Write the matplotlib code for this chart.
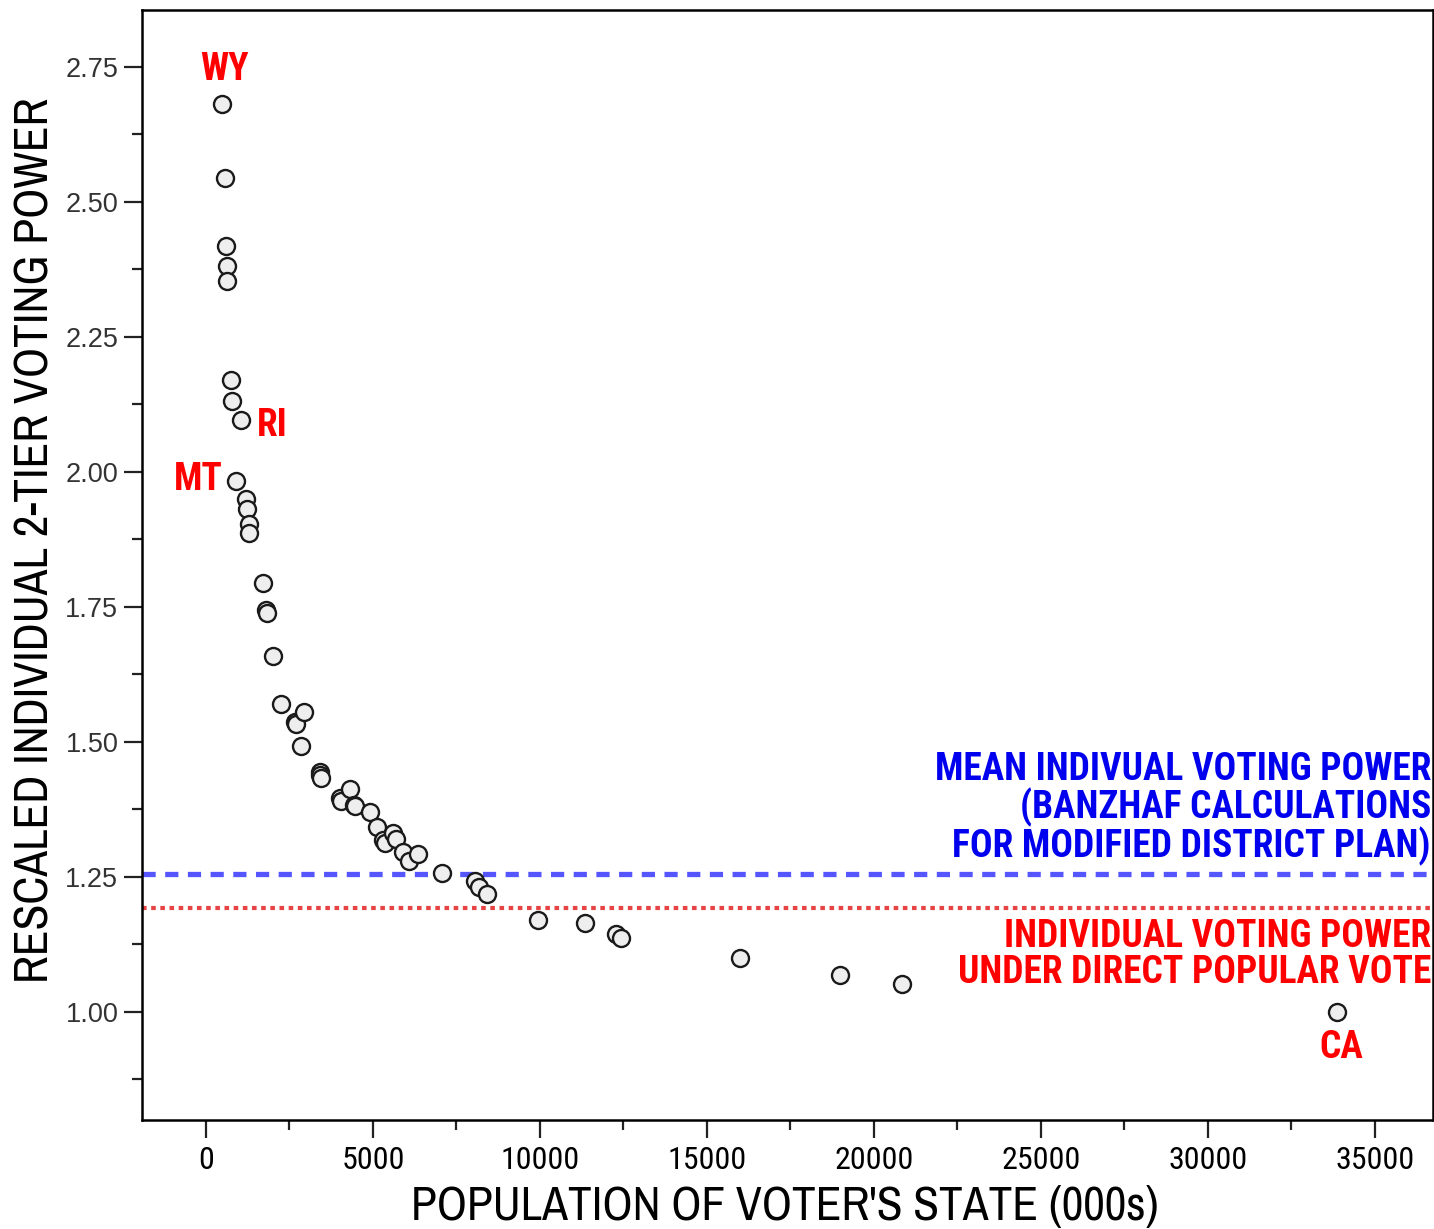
import matplotlib
matplotlib.use("Agg")
import matplotlib.pyplot as plt
import numpy as np
from matplotlib.ticker import MultipleLocator

# population (000s) of each state and rescaled 2-tier voting power
states = ['WY', 'DC', 'VT', 'AK', 'ND', 'SD', 'DE', 'RI', 'MT', 'HI', 'NH', 'ME', 'ID',
          'NE', 'WV', 'NM', 'NV', 'UT', 'AR', 'KS', 'MS', 'IA', 'CT', 'OR', 'OK',
          'SC', 'KY', 'CO', 'AL', 'LA', 'MN', 'AZ', 'MD', 'WI', 'MO', 'TN', 'WA',
          'IN', 'MA', 'VA', 'NC', 'GA', 'NJ', 'MI', 'OH', 'PA', 'IL', 'FL', 'NY',
          'TX', 'CA']
population = [494, 572, 609, 627, 642, 755, 784, 1048, 902, 1212, 1236, 1275, 1294,
              1711, 1808, 1819, 1998, 2233, 2673, 2688, 2845, 2926, 3406, 3421, 3451,
              4012, 4042, 4301, 4447, 4469, 4919, 5131, 5296, 5364, 5595, 5689, 5894,
              6080, 6349, 7078, 8049, 8186, 8414, 9938, 11353, 12281, 12419, 15982, 18976,
              20852, 33872]
power = [2.681, 2.543, 2.417, 2.380, 2.352, 2.169, 2.131, 2.096, 1.983, 1.950, 1.930, 1.902, 1.887,
         1.793, 1.743, 1.739, 1.659, 1.569, 1.537, 1.533, 1.491, 1.554, 1.444, 1.438, 1.433,
         1.396, 1.390, 1.413, 1.383, 1.380, 1.369, 1.341, 1.318, 1.313, 1.331, 1.319, 1.296,
         1.278, 1.291, 1.257, 1.241, 1.231, 1.217, 1.170, 1.165, 1.143, 1.137, 1.100, 1.067,
         1.052, 1.000]
# label offsets (data units) for the named states
labeled = {'WY': (60, 0.063), 'RI': (925, -0.011), 'MT': (-1120, 0.002), 'CA': (120, -0.067)}

mean_banzhaf = 1.255
direct_vote = 1.191
blue_lines = ['MEAN INDIVUAL VOTING POWER', '(BANZHAF CALCULATIONS', 'FOR MODIFIED DISTRICT PLAN)']
blue_y = [1.448, 1.378, 1.307]
red_lines = ['INDIVIDUAL VOTING POWER', 'UNDER DIRECT POPULAR VOTE']
red_y = [1.139, 1.072]

cond = 'Roboto Condensed'
narrow = 'Archivo Narrow'

fig = plt.figure(figsize=(14.34, 12.29), dpi=100)
ax = fig.add_axes([0.099, 0.089, 0.9005, 0.903])

ax.axhline(mean_banzhaf, color='#5656ff', lw=3.8, ls=(0, (2.5, 1.8)), zorder=1)
ax.axhline(direct_vote, color='#e64444', lw=3.0, ls=(0, (1.1, 1.1)), zorder=1)

ax.scatter(population, power, s=150, facecolor='#eeeeee', edgecolor='#1a1a1a',
           linewidths=1.7, zorder=3)

for st, (dx, dy) in labeled.items():
    i = states.index(st)
    ax.text(population[i] + dx, power[i] + dy, st, color='red', fontsize=27,
            fontweight='bold', family=cond, ha='center', va='center')

for line, y in zip(blue_lines, blue_y):
    ax.text(36680, y, line, color='#0000ee', fontsize=27, fontweight='bold',
            family=cond, ha='right', va='center')
for line, y in zip(red_lines, red_y):
    ax.text(36680, y, line, color='red', fontsize=27, fontweight='bold',
            family=cond, ha='right', va='center')

ax.set_xlim(-1916, 36750)
ax.set_ylim(0.80, 2.855)
ax.xaxis.set_major_locator(MultipleLocator(5000))
ax.xaxis.set_minor_locator(MultipleLocator(2500))
yt = np.arange(1.0, 2.76, 0.25)
ax.set_yticks(yt)
ax.set_yticks(np.arange(0.875, 2.8, 0.25), minor=True)
ax.set_yticklabels(['%.2f' % v for v in yt])

ax.tick_params(which='major', length=13, width=1.6, direction='out', color='#222222')
ax.tick_params(which='minor', length=7, width=1.6, direction='out', color='#222222')
ax.tick_params(axis='x', labelsize=23, pad=6)
for lab in ax.get_xticklabels():
    lab.set_family(cond)
ax.tick_params(axis='y', labelsize=19.5, pad=4, labelcolor='#333333')
for lab in ax.get_yticklabels():
    lab.set_family('Liberation Sans')

for sp in ax.spines.values():
    sp.set_linewidth(1.8)

ax.set_xlabel("POPULATION OF VOTER'S STATE (000s)", fontsize=34, family=narrow)
ax.set_ylabel('RESCALED INDIVIDUAL 2-TIER VOTING POWER', fontsize=34, family=narrow)
ax.xaxis.set_label_coords(0.498, -0.059)
ax.yaxis.set_label_coords(-0.066, 0.522)

fig.savefig('out.png', dpi=100)
